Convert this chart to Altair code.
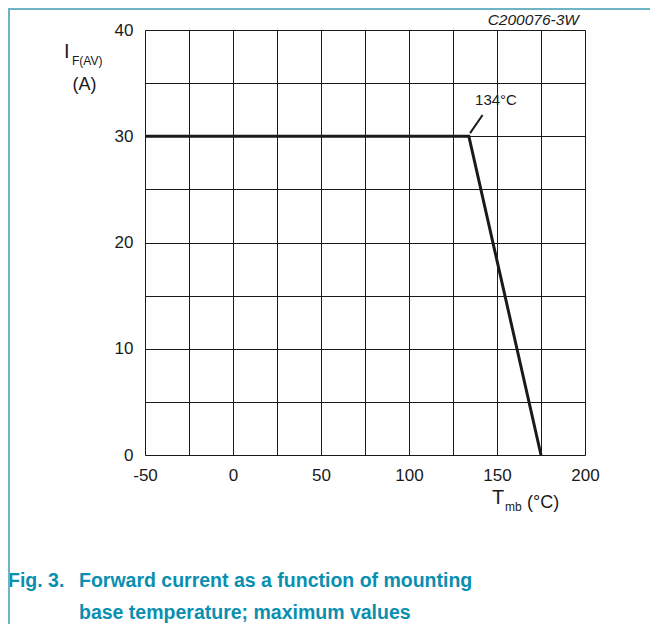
import altair as alt
import pandas as pd

# Curve data
temp_c = [-50, 134, 175]
current_a = [30, 30, 0]

# Annotation leader for 134°C
lead_x = [134.7, 141.8]
lead_y = [30.3, 32.0]

x_ticks = [-50, -25, 0, 25, 50, 75, 100, 125, 150, 175, 200]
y_ticks = [0, 5, 10, 15, 20, 25, 30, 35, 40]

W, H = 440, 425
INK = "#1a1a1a"
TEAL = "#0a8fb0"
FONT = "Liberation Sans"

curve = pd.DataFrame({"T": temp_c, "I": current_a})
lead = pd.DataFrame({"T": lead_x, "I": lead_y})

xs = alt.Scale(domain=[-50, 200], nice=False, zero=False)
ys = alt.Scale(domain=[0, 40], nice=False, zero=False)

xaxis = alt.Axis(values=x_ticks, grid=True, ticks=False, domain=False, title=None,
                 labelExpr="datum.value % 50 == 0 ? toString(datum.value) : ''",
                 labelFontSize=17, labelColor=INK, labelFont=FONT, labelPadding=12,
                 gridColor=INK, gridOpacity=1, gridWidth=1, labelFlush=False)
yaxis = alt.Axis(values=y_ticks, grid=True, ticks=False, domain=False, title=None,
                 labelExpr="datum.value % 10 == 0 ? toString(datum.value) : ''",
                 labelFontSize=17, labelColor=INK, labelFont=FONT, labelPadding=12,
                 gridColor=INK, gridOpacity=1, gridWidth=1, labelFlush=False)

base = alt.Chart(curve)
line = base.mark_line(color=INK, strokeWidth=3).encode(
    x=alt.X("T:Q", scale=xs, axis=xaxis),
    y=alt.Y("I:Q", scale=ys, axis=yaxis),
)
leader = alt.Chart(lead).mark_line(color=INK, strokeWidth=2).encode(
    x=alt.X("T:Q", scale=xs), y=alt.Y("I:Q", scale=ys)
)

def txt(s, x, y, size, align="left", weight="normal", style="normal", color=INK, font=FONT):
    return alt.Chart(pd.DataFrame({"t": [s]})).mark_text(
        align=align, baseline="alphabetic", fontSize=size, fontWeight=weight,
        fontStyle=style, color=color, font=font
    ).encode(text="t:N", x=alt.value(x), y=alt.value(y))

texts = [
    txt("I", -81, 28, 20),
    txt("F(AV)", -73, 35, 12),
    txt("(A)", -60.5, 60, 18, align="center"),
    txt("T", 347, 474, 20),
    txt("mb", 360, 481, 12),
    txt("(°C)", 382, 478, 18),
    txt("134°C", 351, 75, 15, align="center"),
    txt("C200076-3W", 434, -5, 15.5, align="right", style="italic"),
    txt("Fig. 3.", -137, 557, 19.5, weight="bold", color=TEAL),
    txt("Forward current as a function of mounting", -66, 557, 19.5, weight="bold", color=TEAL),
    txt("base temperature; maximum values", -66, 589, 19.5, weight="bold", color=TEAL),
]

border_top = alt.Chart(pd.DataFrame({"a": [0]})).mark_rule(color="#6fb3c4", strokeWidth=2).encode(
    x=alt.value(-137), x2=alt.value(513), y=alt.value(-21))
border_left = alt.Chart(pd.DataFrame({"a": [0]})).mark_rule(color="#6fb3c4", strokeWidth=2).encode(
    x=alt.value(-136), y=alt.value(-22), y2=alt.value(604))

chart = alt.layer(line, leader, *texts, border_top, border_left).properties(
    width=W, height=H,
    autosize=alt.AutoSizeParams(type="none"),
    padding={"left": 137, "top": 22, "right": 65, "bottom": 169},
).configure_view(stroke=INK, strokeWidth=1).configure(background="white")

chart.save("out.html", embed_options={"renderer": "svg", "actions": False})
